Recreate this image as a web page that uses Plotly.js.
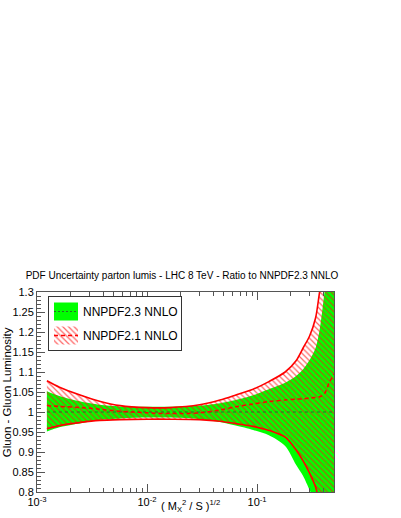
<!DOCTYPE html>
<html>
<head>
<meta charset="utf-8">
<script src="https://cdn.plot.ly/plotly-3.0.1.min.js"></script>
<style>
  html, body { margin: 0; padding: 0; background: #fff; }
  #chart { width: 401px; height: 518px; }
</style>
</head>
<body>
<div id="chart"></div>
<script>
// sqrt(M_X^2 / S) grid
const tauX = [0.00123, 0.0016, 0.0025, 0.0037, 0.0057, 0.01, 0.016, 0.03, 0.046, 0.064,
              0.092, 0.128, 0.18, 0.226, 0.262, 0.30, 0.34, 0.37, 0.41, 0.45, 0.5];

// NNPDF2.3 NNLO band (ratio to itself -> central is 1)
const nn23Cv = [1, 1, 1, 1, 1, 1, 1, 1, 1, 1, 1, 1, 1, 1, 1, 1, 1, 1, 1, 1, 1];
const nn23Up = [1.052, 1.040, 1.026, 1.018, 1.014, 1.013, 1.013, 1.016, 1.022, 1.030,
                1.042, 1.057, 1.073, 1.090, 1.107, 1.130, 1.160, 1.205, 1.300, 1.40, 1.50];
const nn23Dn = [0.951, 0.962, 0.972, 0.980, 0.984, 0.986, 0.986, 0.982, 0.975, 0.966,
                0.955, 0.942, 0.915, 0.868, 0.840, 0.805, 0.770, 0.730, 0.690, 0.630, 0.560];

// NNPDF2.1 NNLO band
const nn21Cv = [1.016, 1.014, 1.011, 1.007, 1.002, 0.998, 0.996, 0.998, 1.005, 1.013,
                1.020, 1.026, 1.030, 1.032, 1.033, 1.035, 1.036, 1.038, 1.046, 1.072, 1.095];
const nn21Up = [1.078, 1.062, 1.042, 1.027, 1.016, 1.011, 1.011, 1.018, 1.030, 1.0425,
                1.057, 1.076, 1.100, 1.128, 1.160, 1.190, 1.235, 1.300, 1.370, 1.460, 1.560];
const nn21Dn = [0.958, 0.966, 0.974, 0.979, 0.981, 0.982, 0.982, 0.981, 0.977, 0.971,
                0.964, 0.954, 0.937, 0.905, 0.878, 0.847, 0.813, 0.770, 0.720, 0.650, 0.580];

const xTickVals = [0.001, 0.01, 0.1];
const xTickText = ["10<sup>-3</sup>", "10<sup>-2</sup>", "10<sup>-1</sup>"];

const FONT = "Liberation Sans, Arial, Helvetica, sans-serif";
const SMOOTH = {shape: "spline", smoothing: 0.8};

const minorX = [];
for (let d = 0.001; d < 1; d *= 10) {
    for (let k = 2; k <= 9; k++) minorX.push(k * d);
}

const data = [
    // green band: upper edge, then lower edge filled up to it
    {x: tauX, y: nn23Up, mode: "lines", line: Object.assign({width: 0}, SMOOTH),
     showlegend: false, hoverinfo: "skip", legendgroup: "a"},
    {x: tauX, y: nn23Dn, name: "NNPDF2.3 NNLO", mode: "lines", fill: "tonexty",
     fillcolor: "#00ff00", line: Object.assign({width: 0}, SMOOTH), hoverinfo: "skip",
     legendgroup: "a"},
    // hatched red band
    {x: tauX, y: nn21Up, mode: "lines", line: Object.assign({width: 0}, SMOOTH),
     showlegend: false, hoverinfo: "skip", legendgroup: "b"},
    {x: tauX, y: nn21Dn, name: "NNPDF2.1 NNLO", mode: "lines", fill: "tonexty",
     fillcolor: "rgba(0,0,0,0)", line: Object.assign({width: 0}, SMOOTH), hoverinfo: "skip",
     legendgroup: "b",
     fillpattern: {shape: "\\", fgcolor: "#ff1010", fgopacity: 0.65, bgcolor: "rgba(0,0,0,0)",
                   size: 4, solidity: 0.3}},
    {x: tauX, y: nn21Up, mode: "lines", line: Object.assign({color: "#ff0000", width: 1.6}, SMOOTH),
     showlegend: false, legendgroup: "b"},
    {x: tauX, y: nn21Dn, mode: "lines", line: Object.assign({color: "#ff0000", width: 1.6}, SMOOTH),
     showlegend: false, legendgroup: "b"},
    {x: tauX, y: nn23Cv, mode: "lines", line: {color: "#2a6a2a", width: 1, dash: "3px,3px"},
     showlegend: false, legendgroup: "a"},
    {x: tauX, y: nn21Cv, mode: "lines", line: Object.assign({color: "#ff0000", width: 1.5, dash: "4px,3px"}, SMOOTH),
     showlegend: false, legendgroup: "b"}
];

const layout = {
    width: 401, height: 518,
    margin: {l: 37, r: 67, t: 292, b: 26},
    paper_bgcolor: "#fff", plot_bgcolor: "#fff",
    font: {family: FONT, color: "#000", size: 11},
    showlegend: true,
    title: {
        text: "PDF Uncertainty parton lumis - LHC 8 TeV - Ratio to NNPDF2.3 NNLO",
        font: {size: 10, family: FONT, color: "#000"},
        x: 0.454, xref: "container", xanchor: "center",
        y: 0.469, yref: "container", yanchor: "middle"
    },
    legend: {
        x: 0.037, y: 0.98, xanchor: "left", yanchor: "top",
        bgcolor: "#fff", bordercolor: "#333", borderwidth: 1,
        font: {size: 12, family: FONT, color: "#000"},
        traceorder: "grouped", tracegroupgap: 5
    },
    xaxis: {
        type: "log", range: [-3, Math.log10(0.5)],
        tickvals: xTickVals, ticktext: xTickText,
        ticks: "inside", ticklen: 8, tickcolor: "#555",
        minor: {tickvals: minorX, ticks: "inside", ticklen: 4, tickcolor: "#555"},
        showline: true, linecolor: "#555", linewidth: 1, mirror: "ticks",
        showgrid: false, zeroline: false,
        tickfont: {size: 11, family: FONT, color: "#000"}
    },
    yaxis: {
        range: [0.8, 1.3], tick0: 0.8, dtick: 0.05,
        ticks: "inside", ticklen: 8, tickcolor: "#555",
        minor: {dtick: 0.01, ticks: "inside", ticklen: 4, tickcolor: "#555"},
        showline: true, linecolor: "#555", linewidth: 1, mirror: true,
        showgrid: false, zeroline: false,
        tickfont: {size: 11, family: FONT, color: "#000"}
    },
    annotations: [
        {text: "Gluon - Gluon Luminosity", xref: "paper", yref: "paper",
         x: -0.1, y: 0.5, textangle: -90, showarrow: false,
         xanchor: "center", yanchor: "middle", font: {size: 11.5, family: FONT, color: "#000"}},
        {text: "( M<sub>X</sub><sup>2</sup> / S )<sup>1/2</sup>", xref: "paper", yref: "paper",
         x: 0.411, y: -0.07, showarrow: false, xanchor: "left", yanchor: "middle",
         font: {size: 11, family: FONT, color: "#000"}}
    ]
};

Plotly.newPlot("chart", data, layout, {staticPlot: true}).then(function (gd) {
    // ROOT-style legend glyphs: taller box with the central line across it
    const glyphLines = {
        "NNPDF2.3 NNLO": {color: "#2a6a2a", dash: "2,2", width: 1},
        "NNPDF2.1 NNLO": {color: "#ff0000", dash: "4,3", width: 1.5}
    };
    gd.querySelectorAll(".legend .traces").forEach(function (t) {
        const txt = t.querySelector("text.legendtext");
        const gl = txt ? glyphLines[txt.textContent] : null;
        if (txt) txt.setAttribute("x", 34);
        const fp = t.querySelector(".legendfill path");
        if (!fp) return;
        fp.setAttribute("d", "M5,-9h24v18h-24z");
        if (gl) {
            const p = document.createElementNS("http://www.w3.org/2000/svg", "path");
            p.setAttribute("d", "M5,0h24");
            p.setAttribute("fill", "none");
            p.setAttribute("stroke", gl.color);
            p.setAttribute("stroke-width", gl.width);
            p.setAttribute("stroke-dasharray", gl.dash);
            fp.parentNode.appendChild(p);
        }
    });
    const bg = gd.querySelector(".legend rect.bg");
    if (bg) bg.setAttribute("width", parseFloat(bg.getAttribute("width")) - 8);
});
</script>
</body>
</html>
